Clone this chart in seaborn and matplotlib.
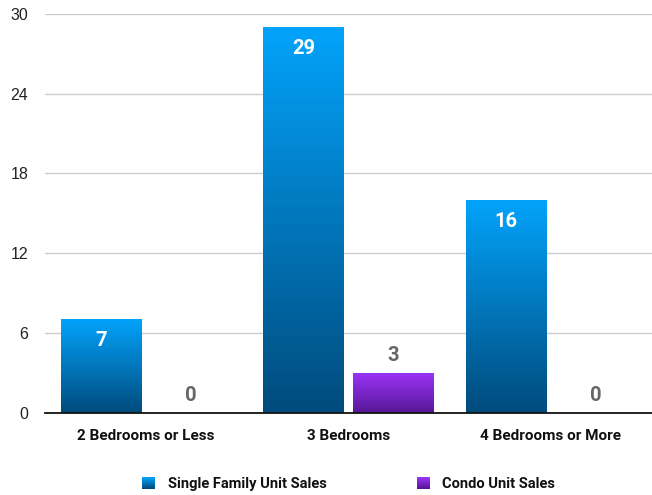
import numpy as np
import pandas as pd
import seaborn as sns
import matplotlib.pyplot as plt
from matplotlib.colors import to_rgb
from matplotlib.patches import Patch

categories = ["2 Bedrooms or Less", "3 Bedrooms", "4 Bedrooms or More"]
series_names = ["Single Family Unit Sales", "Condo Unit Sales"]
single_family = [7, 29, 16]
condo = [0, 3, 0]
y_ticks = [0, 6, 12, 18, 24, 30]

# gradient end colours (top, bottom) per series
grad = {
    "Single Family Unit Sales": ("#03a3fb", "#004b7c"),
    "Condo Unit Sales": ("#9b33f7", "#561896"),
}

df = pd.DataFrame({
    "category": categories * 2,
    "series": [series_names[0]] * 3 + [series_names[1]] * 3,
    "value": single_family + condo,
})

sns.set_theme(style="white")
plt.rcParams["font.family"] = ["Liberation Sans", "DejaVu Sans"]

fig = plt.figure(figsize=(6.52, 4.95), dpi=100)
ax = fig.add_axes([0.069, 0.166, 0.931, 0.806])

sns.barplot(data=df, x="category", y="value", hue="series", order=categories,
            hue_order=series_names, width=0.89, gap=0.11, ax=ax,
            legend=False, palette=[grad[s][0] for s in series_names])

ax.set_xlim(-0.5, 2.5)
ax.set_ylim(0, 30)
ax.set_yticks(y_ticks)
ax.set_yticklabels([str(t) for t in y_ticks], fontsize=11.5, color="#222222")
ax.tick_params(axis="y", length=0, pad=12)
ax.tick_params(axis="x", length=0, pad=12)
ax.set_xticks(range(len(categories)))
ax.set_xticklabels(categories, fontsize=11, fontweight="bold",
                   family=["Roboto", "DejaVu Sans"], color="#111111")
ax.set_xlabel("")
ax.set_ylabel("")
ax.yaxis.grid(True, color="#cccccc", linewidth=1)
ax.set_axisbelow(True)
for s in ["left", "right", "top"]:
    ax.spines[s].set_visible(False)
ax.spines["bottom"].set_color("#111111")
ax.spines["bottom"].set_linewidth(1.3)
ax.spines["bottom"].set_zorder(5)


def gradient_image(top, bottom, n=256):
    t = np.linspace(0, 1, n)[:, None]
    c0 = np.array(to_rgb(top))
    c1 = np.array(to_rgb(bottom))
    return (c0 * (1 - t) + c1 * t)[:, None, :]


values = {series_names[0]: single_family, series_names[1]: condo}
for container, name in zip(ax.containers, series_names):
    for patch, val in zip(container.patches, values[name]):
        x0 = patch.get_x()
        w = patch.get_width()
        h = patch.get_height()
        cx = x0 + w / 2
        if h > 0:
            patch.set_visible(False)
            img = gradient_image(*grad[name])
            ax.imshow(img, extent=[x0, x0 + w, 0, h], aspect="auto",
                      zorder=3, interpolation="bilinear")
        inside = val >= 5
        ax.annotate(str(val), (cx, val), xytext=(0, -21 if inside else 17),
                    textcoords="offset pixels",
                    ha="center", va="center", fontsize=14.5,
                    fontweight="bold",
                    color="white" if inside else "#666666",
                    family=["Roboto", "DejaVu Sans"], zorder=6)

ax.set_xlim(-0.5, 2.5)
ax.set_ylim(0, 30)

handles = [Patch(facecolor=grad[s][0], edgecolor="none") for s in series_names]
leg = fig.legend(handles, series_names, loc="center", ncol=2,
                 bbox_to_anchor=(0.535, 0.022), frameon=False,
                 handlelength=0.9, handleheight=0.9, handletextpad=0.85,
                 columnspacing=6.2,
                 prop={"family": ["Roboto", "DejaVu Sans"], "weight": "bold",
                       "size": 10.5})
for t in leg.get_texts():
    t.set_color("#111111")

# paint the legend swatches with the same vertical gradients
fig.canvas.draw()
for h, name in zip(leg.legend_handles, series_names):
    bb = h.get_window_extent()
    hgt = int(round(bb.height))
    wid = int(round(bb.width))
    img = np.repeat(gradient_image(*grad[name], n=hgt), wid, axis=1)
    h.set_visible(False)
    fig.figimage(img, xo=int(round(bb.x0)), yo=int(round(bb.y0)),
                 origin="upper", zorder=10)

fig.savefig("out.png", dpi=100)
